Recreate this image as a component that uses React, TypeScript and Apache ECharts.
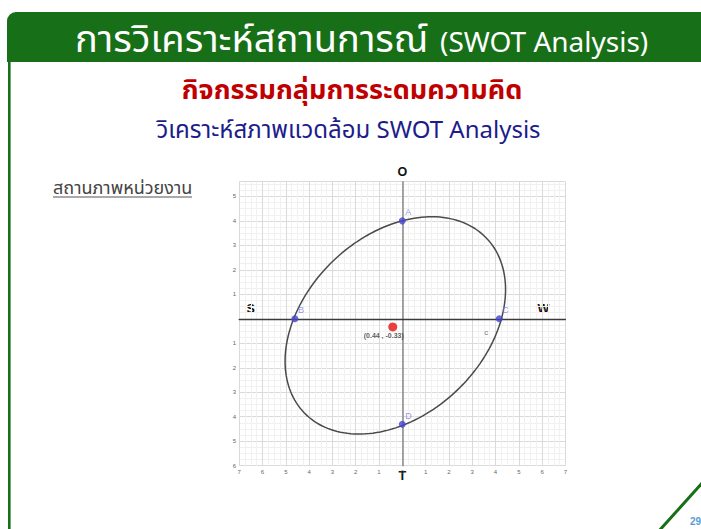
import React, { useEffect, useRef } from 'react';
import * as echarts from 'echarts';

const titleThai = 'การวิเคราะห์สถานการณ์';
const titleLatin = '(SWOT Analysis)';
const activityTitle = 'กิจกรรมกลุ่มการระดมความคิด';
const subTitle = 'วิเคราะห์สภาพแวดล้อม SWOT Analysis';
const sideLabel = 'สถานภาพหน่วยงาน';
const pageNumber = '29';

const xRange = [-7, 7];
const yRange = [-6, 5.6];

// conic "c" (an ellipse), its parameters in axis units
const ellipseCenter = [-0.3, -0.27];
const ellipseSemiAxes = [5.3, 3.74];
const ellipseTiltDeg = [39.5];

const pointNames = ['A', 'B', 'C', 'D'];
const pointXs = [0, -4.61, 4.16, 0];
const pointYs = [4, 0, 0, -4.31];

const centerPoint = [-0.41, -0.33];
const centerLabel = '(0.44 , -0.33)';
const conicName = 'c';
const conicLabelAt = [3.6, -0.55];

const GREEN = '#176f17';
const THAI = "'Noto Sans Thai', 'Noto Sans', Tahoma, sans-serif";
const ARIAL = "'Liberation Sans', Arial, sans-serif";

export default function App() {
  const ref = useRef<HTMLDivElement>(null);
  useEffect(() => {
    if (!ref.current) return;
    const chart = echarts.init(ref.current, undefined, { renderer: 'svg' });
    const quad = (text: string, x: number, y: number) => ({
      type: 'text',
      x,
      y,
      style: { text, fill: '#111', font: `bold 12.5px ${ARIAL}`, align: 'center', verticalAlign: 'middle' },
    });
    chart.setOption({
      animation: false,
      backgroundColor: '#ffffff',
      grid: { left: 239.2, right: 135.6, top: 181.7, bottom: 63.3, containLabel: false },
      xAxis: {
        type: 'value',
        min: xRange[0],
        max: xRange[1],
        interval: 1,
        axisLine: { onZero: true, lineStyle: { color: '#3a3a3a', width: 1.3 } },
        axisTick: { show: false },
        axisLabel: {
          fontSize: 6,
          color: '#666',
          margin: 3,
          fontFamily: ARIAL,
          formatter: (v: number) => String(Math.abs(v)),
        },
        splitLine: { show: true, lineStyle: { color: '#dadada', width: 1 } },
        minorTick: { show: false, splitNumber: 4 },
        minorSplitLine: { show: true, lineStyle: { color: '#f1f1f1', width: 1 } },
      },
      yAxis: {
        type: 'value',
        min: yRange[0],
        max: yRange[1],
        interval: 1,
        axisLine: { onZero: true, lineStyle: { color: '#8a8a8a', width: 1.5 } },
        axisTick: { show: false },
        axisLabel: {
          fontSize: 6,
          lineHeight: 6,
          color: '#666',
          margin: 3,
          fontFamily: ARIAL,
          showMaxLabel: false,
          formatter: (v: number) => (v === 0 ? '' : String(Math.abs(v))),
        },
        splitLine: { show: true, lineStyle: { color: '#dadada', width: 1 } },
        minorTick: { show: false, splitNumber: 4 },
        minorSplitLine: { show: true, lineStyle: { color: '#f1f1f1', width: 1 } },
      },
      series: [
        {
          type: 'custom',
          coordinateSystem: 'cartesian2d',
          data: [ellipseCenter],
          z: 3,
          silent: true,
          renderItem: (_params: any, api: any) => {
            const [h, k] = ellipseCenter;
            const [ra, rb] = ellipseSemiAxes;
            const th = (ellipseTiltDeg[0] * Math.PI) / 180;
            const steps = 180;
            let d = '';
            for (let i = 0; i <= steps; i++) {
              const t = (i / steps) * Math.PI * 2;
              const x = h + ra * Math.cos(t) * Math.cos(th) - rb * Math.sin(t) * Math.sin(th);
              const y = k + ra * Math.cos(t) * Math.sin(th) + rb * Math.sin(t) * Math.cos(th);
              const p = api.coord([x, y]);
              d += `${i === 0 ? 'M' : 'L'}${p[0].toFixed(2)},${p[1].toFixed(2)} `;
            }
            d += 'Z';
            return {
              type: 'path',
              shape: { pathData: d },
              style: { fill: 'none', stroke: '#4a4a4a', lineWidth: 1.5 },
            };
          },
        },
        {
          type: 'scatter',
          data: pointNames.map((n, i) => ({ name: n, value: [pointXs[i], pointYs[i]] })),
          symbolSize: 7,
          itemStyle: { color: '#4545cf' },
          label: {
            show: true,
            formatter: '{b}',
            position: [6.5, -9.5],
            fontSize: 9,
            color: '#7d7de0',
            fontFamily: ARIAL,
          },
          z: 5,
        },
        {
          type: 'scatter',
          data: [{ name: centerLabel, value: centerPoint }],
          symbolSize: 9,
          itemStyle: { color: '#e5120f' },
          label: {
            show: true,
            formatter: '{b}',
            position: 'bottom',
            distance: 1,
            offset: [-9, 0],
            fontSize: 7,
            fontWeight: 'bold',
            color: '#333',
            fontFamily: ARIAL,
          },
          z: 6,
        },
        {
          type: 'scatter',
          data: [{ name: conicName, value: conicLabelAt }],
          symbolSize: 1,
          itemStyle: { color: 'rgba(0,0,0,0)' },
          label: {
            show: true,
            formatter: '{b}',
            position: 'inside',
            fontSize: 8,
            color: '#555',
            fontFamily: ARIAL,
          },
          z: 4,
        },
      ],
      graphic: [
        { type: 'rect', shape: { x: 7, y: 12, width: 720, height: 50, r: [9, 0, 0, 0] }, style: { fill: GREEN } },
        { type: 'rect', shape: { x: 8, y: 56, width: 2.6, height: 480 }, style: { fill: GREEN } },
        { type: 'line', shape: { x1: 658, y1: 532, x2: 704, y2: 481 }, style: { stroke: GREEN, lineWidth: 3 } },
        {
          type: 'text', x: 75, y: 40,
          style: { text: titleThai, fill: '#ffffff', font: `38px ${THAI}`, align: 'left', verticalAlign: 'middle' },
        },
        {
          type: 'text', x: 440, y: 43,
          style: { text: titleLatin, fill: '#ffffff', font: `28px ${THAI}`, align: 'left', verticalAlign: 'middle' },
        },
        {
          type: 'text', x: 352, y: 90,
          style: { text: activityTitle, fill: '#c00000', font: `bold 27px ${THAI}`, align: 'center', verticalAlign: 'middle' },
        },
        {
          type: 'text', x: 348.5, y: 131,
          style: { text: subTitle, fill: '#1d1d8a', font: `24px ${THAI}`, align: 'center', verticalAlign: 'middle' },
        },
        {
          type: 'text', x: 53, y: 188,
          style: { text: sideLabel, fill: '#444', font: `18px ${THAI}`, align: 'left', verticalAlign: 'middle' },
        },
        { type: 'line', shape: { x1: 53, y1: 197, x2: 192, y2: 197 }, style: { stroke: '#555', lineWidth: 1 } },
        {
          type: 'text', x: 690, y: 521,
          style: { text: pageNumber, fill: '#5b9bd5', font: `bold 10px ${ARIAL}`, align: 'left', verticalAlign: 'middle' },
        },
        quad('O', 402.3, 171.7),
        quad('S', 250.7, 309.3),
        quad('W', 543.3, 309.3),
        quad('T', 402.3, 476),
      ],
    });
    return () => chart.dispose();
  }, []);
  return (
    <div
      ref={ref}
      style={{ position: 'fixed', left: 0, top: 0, width: 701, height: 529, background: '#fff' }}
    />
  );
}
